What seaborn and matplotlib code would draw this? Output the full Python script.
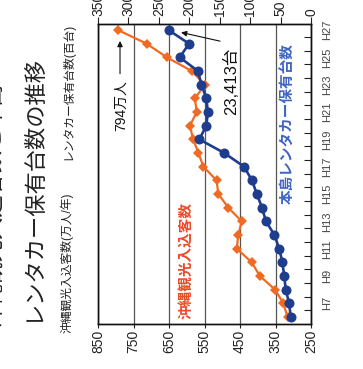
import matplotlib
matplotlib.use("Agg")
import numpy as np
import pandas as pd
import matplotlib.pyplot as plt
import seaborn as sns

# 年度（平成）
years = list(range(6, 28))
# 沖縄観光入込客数（万人/年）
visitors = [316, 328, 351, 394, 417, 459, 455, 445, 483, 511, 516,
            553, 567, 582, 591, 572, 577, 549, 586, 656, 713, 794]
# 本島レンタカー保有台数（台）
rental_cars = [3320, 3600, 4130, 4410, 4690, 5230, 6000, 7400, 8050, 8900, 9700,
               11000, 14250, 18350, 17200, 16940, 17200, 18000, 18580, 21570, 20050, 23413]

year_tick_values = list(range(7, 28, 2))
year_tick_labels = [f"H{y}" for y in year_tick_values]
visitor_ticks = [850, 750, 650, 550, 450, 350, 250]
car_ticks = [350, 300, 250, 200, 150, 100, 50, 0]   # 百台

ORANGE = "#EF6A22"
BLUE = "#1F3D8E"

sns.set_style("white")
plt.rcParams["font.family"] = ["Liberation Sans", "Noto Sans CJK JP"]

df_vis = pd.DataFrame({"year": years, "visitors": visitors})
df_car = pd.DataFrame({"year": years, "cars_100": np.array(rental_cars) / 100})

W, H = 363, 369
fig = plt.figure(figsize=(W / 100, H / 100), dpi=100)
ax = fig.add_axes([98 / W, 45 / H, 213 / W, 300 / H])

# 観光客数（下の目盛り）
sns.lineplot(data=df_vis, x="visitors", y="year", orient="y", ax=ax,
             color=ORANGE, lw=1.6, marker="D", markersize=4.6,
             markeredgewidth=0)
ax.set_xlim(850, 250)
ax.set_ylim(5.49, 27.44)
ax.set_xlabel("")
ax.set_ylabel("")
ax.set_xticks(visitor_ticks)
ax.set_xticklabels([str(v) for v in visitor_ticks], rotation=90)
ax.tick_params(axis="x", direction="out", length=3, width=0.8,
               labelsize=10, pad=1, colors="#222222")
ax.grid(axis="x", color="#555555", lw=0.9)
ax.grid(axis="y", visible=False)

# 年度軸（右側）
ax.yaxis.tick_right()
ax.set_yticks(year_tick_values)
ax.set_yticklabels(year_tick_labels, rotation=90, va="center")
ax.set_yticks(np.arange(6.5, 27.5, 1), minor=True)
ax.tick_params(axis="y", which="major", length=0, pad=8,
               labelsize=8, colors="#444444")
ax.tick_params(axis="y", which="minor", direction="in", length=5,
               width=0.8, right=True, left=False, color="#222222")

# レンタカー保有台数（上の目盛り）
ax2 = ax.twiny()
sns.lineplot(data=df_car, x="cars_100", y="year", orient="y", ax=ax2,
             color=BLUE, lw=1.9, marker="o", markersize=7.2,
             markeredgewidth=0)
ax2.set_xlim(350, 0)
ax2.set_ylim(5.49, 27.44)
ax2.set_xlabel("")
ax2.set_ylabel("")
ax2.set_xticks(car_ticks)
ax2.set_xticklabels([str(v) for v in car_ticks], rotation=90)
ax2.tick_params(axis="x", direction="out", length=5, width=0.8,
                labelsize=10, pad=1, colors="#222222")
ax2.grid(False)

for a in (ax, ax2):
    for s in a.spines.values():
        s.set_color("#111111")
        s.set_linewidth(1.0)

# 注記
ax.text(784, 21.5, "794万人", rotation=90, ha="center", va="center",
        fontsize=10, color="#111111")
ax.annotate("", xy=(788, 26.4), xytext=(788, 23.6),
            arrowprops=dict(arrowstyle="-|>", color="#111111", lw=0.8,
                            mutation_scale=8))
ax2.text(131, 23.25, "23,413台", rotation=90, ha="center", va="center",
         fontsize=12, color="#111111")
ax2.annotate("", xy=(218, 26.87), xytext=(145, 26.14),
             arrowprops=dict(arrowstyle="-|>", color="#111111", lw=0.8,
                             mutation_scale=8))

ax.text(602, 10.17, "沖縄観光入込客数", rotation=90, ha="center", va="center",
        fontsize=10.5, fontweight="bold", color="#E94B2A")
ax2.text(37.6, 20.16, "本島レンタカー保有台数", rotation=90, ha="center",
         va="center", fontsize=10.5, fontweight="bold", color="#3F66C4")

# 軸の見出しとタイトル
fig.text(67 / W, 1 - 333 / H, "沖縄観光入込客数(万人/年)", rotation=90,
         ha="center", va="bottom", fontsize=8.5, color="#222222")
fig.text(68 / W, 1 - 160 / H, "レンタカー保有台数(百台)", rotation=90,
         ha="center", va="bottom", fontsize=8.5, color="#222222")
fig.text(33 / W, 1 - 322 / H, "レンタカー保有台数の推移", rotation=90,
         ha="center", va="bottom", fontsize=16, color="#222222")
fig.text(-6 / W, 1 - 327 / H, "沖縄観光入込客数と本島", rotation=90,
         ha="center", va="bottom", fontsize=16, color="#222222")

fig.savefig("out.png", dpi=100)
